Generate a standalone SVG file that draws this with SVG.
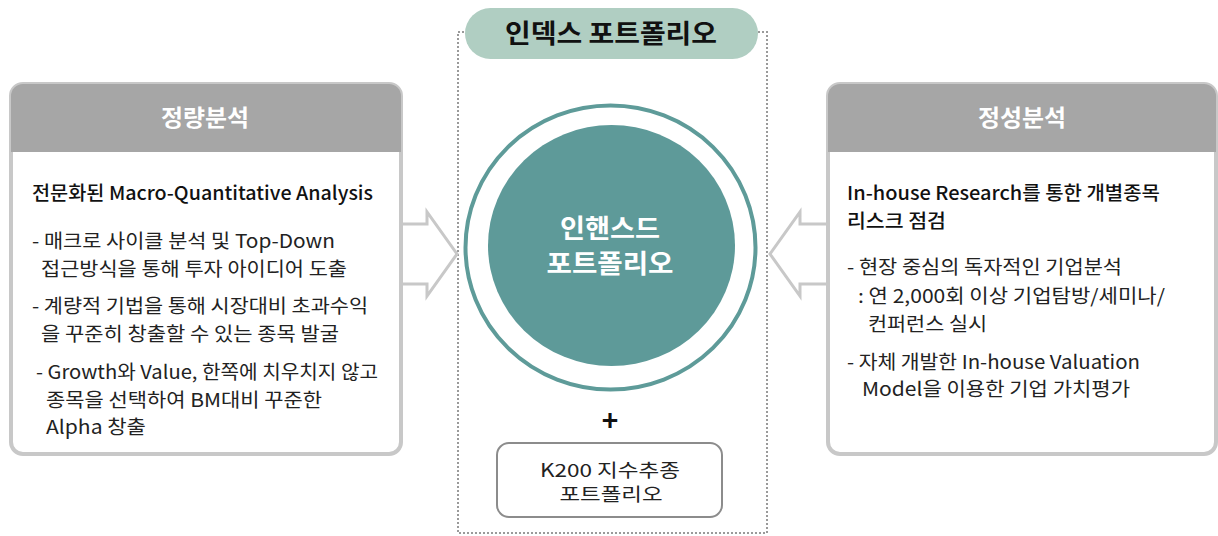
<svg xmlns="http://www.w3.org/2000/svg" width="1218" height="536" viewBox="0 0 1218 536">
<defs>
<style>
text{font-family:"Noto Sans CJK KR","Noto Sans",sans-serif;}
.box{fill:#fff;stroke:#c8c8c8;stroke-width:4;}
.hdr{fill:#a6a6a6;}
.hdrt{font-size:23px;font-weight:700;fill:#fff;text-anchor:middle;}
.ttl{font-size:19px;font-weight:500;fill:#111;}
.bt{font-size:19px;fill:#222;}
.arr{fill:#fff;stroke:#c8c8c8;stroke-width:3;stroke-linejoin:miter;}
</style>
</defs>
<g id="container">
<rect x="458" y="32" width="309" height="501" fill="none" stroke="#9a9a9a" stroke-width="2" stroke-dasharray="2 2"/>
</g>
<g id="title">
<rect x="465" y="8" width="293" height="51" rx="25.5" fill="#b0cec2"/>
<text x="611" y="43" font-size="26" font-weight="700" fill="#111" text-anchor="middle" textLength="212" lengthAdjust="spacingAndGlyphs">인덱스 포트폴리오</text>
</g>
<g id="connectors">
<path class="arr" d="M400 224 H427 V212 L457 254 L427 296 V284 H400"/>
<path class="arr" d="M827 224 H800 V212 L770 254 L800 296 V284 H827"/>
</g>
<g id="quant">
<rect class="box" x="11" y="84" width="390" height="370" rx="12"/>
<path class="hdr" d="M11 96 a12 12 0 0 1 12 -12 H389 a12 12 0 0 1 12 12 V152 H11 Z"/>
<text class="hdrt" x="205" y="126" textLength="88" lengthAdjust="spacingAndGlyphs">정량분석</text>
<text class="ttl" x="32" y="200" textLength="341" lengthAdjust="spacingAndGlyphs">전문화된 Macro-Quantitative Analysis</text>
<text class="bt" x="32" y="248" textLength="303" lengthAdjust="spacingAndGlyphs">- 매크로 사이클 분석 및 Top-Down</text>
<text class="bt" x="41" y="276" textLength="306" lengthAdjust="spacingAndGlyphs">접근방식을 통해 투자 아이디어 도출</text>
<text class="bt" x="32" y="313" textLength="336" lengthAdjust="spacingAndGlyphs">- 계량적 기법을 통해 시장대비 초과수익</text>
<text class="bt" x="41" y="341" textLength="298" lengthAdjust="spacingAndGlyphs">을 꾸준히 창출할 수 있는 종목 발굴</text>
<text class="bt" x="36" y="379" textLength="342" lengthAdjust="spacingAndGlyphs">- Growth와 Value, 한쪽에 치우치지 않고</text>
<text class="bt" x="46" y="407" textLength="276" lengthAdjust="spacingAndGlyphs">종목을 선택하여 BM대비 꾸준한</text>
<text class="bt" x="46" y="434" textLength="100" lengthAdjust="spacingAndGlyphs">Alpha 창출</text>
</g>
<g id="qual">
<rect class="box" x="828" y="84" width="388" height="370" rx="12"/>
<path class="hdr" d="M828 96 a12 12 0 0 1 12 -12 H1204 a12 12 0 0 1 12 12 V152 H828 Z"/>
<text class="hdrt" x="1022" y="126" textLength="88" lengthAdjust="spacingAndGlyphs">정성분석</text>
<text class="ttl" x="847" y="200" textLength="313" lengthAdjust="spacingAndGlyphs">In-house Research를 통한 개별종목</text>
<text class="ttl" x="847" y="228" textLength="99" lengthAdjust="spacingAndGlyphs">리스크 점검</text>
<text class="bt" x="847" y="274" textLength="275" lengthAdjust="spacingAndGlyphs">- 현장 중심의 독자적인 기업분석</text>
<text class="bt" x="858" y="303" textLength="307" lengthAdjust="spacingAndGlyphs">: 연 2,000회 이상 기업탐방/세미나/</text>
<text class="bt" x="868" y="331" textLength="119" lengthAdjust="spacingAndGlyphs">컨퍼런스 실시</text>
<text class="bt" x="847" y="369" textLength="293" lengthAdjust="spacingAndGlyphs">- 자체 개발한 In-house Valuation</text>
<text class="bt" x="862" y="396" textLength="268" lengthAdjust="spacingAndGlyphs">Model을 이용한 기업 가치평가</text>
</g>
<g id="enhanced">
<ellipse cx="610.5" cy="247.5" rx="145" ry="142" fill="#fff" stroke="#5e9b99" stroke-width="4"/>
<ellipse cx="611.5" cy="245.5" rx="123.5" ry="120.5" fill="#5e9a99"/>
<text x="610" y="238" font-size="26" font-weight="700" fill="#fff" text-anchor="middle" textLength="100" lengthAdjust="spacingAndGlyphs">인핸스드</text>
<text x="610" y="273" font-size="26" font-weight="700" fill="#fff" text-anchor="middle" textLength="127" lengthAdjust="spacingAndGlyphs">포트폴리오</text>
</g>
<g id="plus">
<text x="610" y="431" font-size="28" font-weight="700" fill="#111" text-anchor="middle">+</text>
</g>
<g id="k200">
<rect x="497" y="443" width="225" height="74" rx="12" fill="#fff" stroke="#8c8c8c" stroke-width="2"/>
<text x="610" y="477" font-size="18" fill="#222" text-anchor="middle" textLength="140" lengthAdjust="spacingAndGlyphs">K200 지수추종</text>
<text x="611" y="501" font-size="18" fill="#222" text-anchor="middle" textLength="103" lengthAdjust="spacingAndGlyphs">포트폴리오</text>
</g>
</svg>
